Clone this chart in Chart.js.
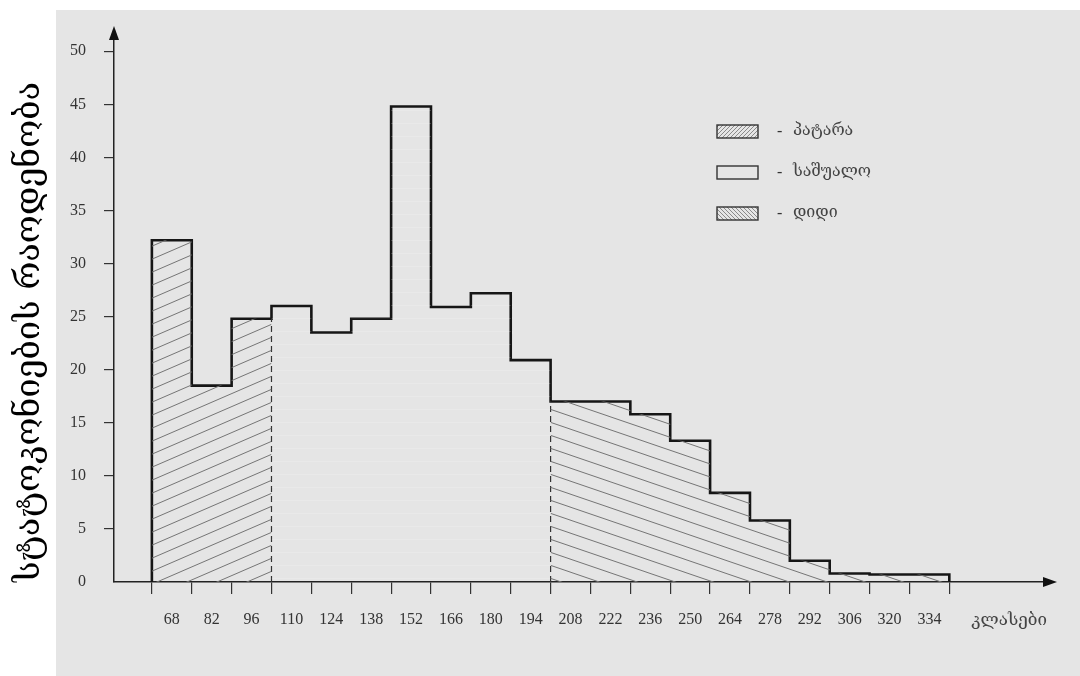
<!DOCTYPE html>
<html>
<head>
<meta charset="utf-8">
<script src="https://cdn.jsdelivr.net/npm/chart.js@4.4.1/dist/chart.umd.min.js"></script>
<style>
  html, body { margin: 0; padding: 0; background: #fff; }
  #wrap { width: 1080px; height: 676px; }
</style>
</head>
<body>
<div id="wrap"><canvas id="histogram" width="1080" height="676"></canvas></div>
<script>
// class centres (x) and statoconia counts per class
const classes = [68, 82, 96, 110, 124, 138, 152, 166, 180, 194, 208, 222, 236, 250, 264, 278, 292, 306, 320, 334];
const counts = [32.2, 18.5, 24.8, 26.0, 23.5, 24.8, 44.8, 25.9, 27.2, 20.9, 17.0, 17.0, 15.8, 13.3, 8.4, 5.8, 2.0, 0.8, 0.7, 0.7];
const groupLabels = ['პატარა', 'საშუალო', 'დიდი'];
const groupStarts = [0, 3, 10];
const yTicks = [0, 5, 10, 15, 20, 25, 30, 35, 40, 45, 50];
const yTitle = 'სტატოკონიების რაოდენობა';
const xTitle = 'კლასები';

const half = (classes[1] - classes[0]) / 2;
const edges = classes.map(c => c - half).concat(classes[classes.length - 1] + half);

const numFont = "'Liberation Serif', 'DejaVu Serif', serif";
const geoFont = "'DejaVu Serif', 'DejaVu Sans', serif";

function hatch(w, h, dir, color, lw) {
  const c = document.createElement('canvas');
  c.width = w; c.height = h;
  const g = c.getContext('2d');
  g.strokeStyle = color;
  g.lineWidth = lw;
  for (let k = -1; k <= 1; k++) {
    g.beginPath();
    if (dir > 0) { g.moveTo(-w, 2 * h + k * h); g.lineTo(2 * w, -h + k * h); }
    else { g.moveTo(-w, -h + k * h); g.lineTo(2 * w, 2 * h + k * h); }
    g.stroke();
  }
  return g.createPattern(c, 'repeat');
}

function faintLines(h) {
  const c = document.createElement('canvas');
  c.width = 4; c.height = h;
  const g = c.getContext('2d');
  g.fillStyle = 'rgba(255,255,255,0.18)';
  g.fillRect(0, Math.floor(h / 2), 4, 1);
  return g.createPattern(c, 'repeat');
}

const fills = [hatch(30, 13, 1, '#757575', 1), faintLines(13), hatch(38, 13, -1, '#757575', 1)];
const legendFills = [hatch(4, 4, 1, '#8a8a8a', 1), 'rgba(0,0,0,0)', hatch(4, 4, -1, '#8a8a8a', 1)];

function groupPoints(g) {
  const s = groupStarts[g];
  const e = g + 1 < groupStarts.length ? groupStarts[g + 1] : counts.length;
  const pts = [];
  for (let i = s; i < e; i++) pts.push({ x: edges[i], y: counts[i] });
  pts.push({ x: edges[e], y: counts[e - 1] });
  return pts;
}

const outline = [{ x: edges[0], y: 0 }]
  .concat(counts.map((v, i) => ({ x: edges[i], y: v })))
  .concat([{ x: edges[counts.length], y: counts[counts.length - 1] }, { x: edges[counts.length], y: 0 }]);

const datasets = groupLabels.map((label, g) => ({
  label: label,
  data: groupPoints(g),
  stepped: 'before',
  fill: 'origin',
  backgroundColor: fills[g],
  borderWidth: 0,
  pointRadius: 0
}));

groupStarts.slice(1).forEach(s => {
  datasets.push({
    label: 'divider',
    data: [{ x: edges[s], y: 0 }, { x: edges[s], y: Math.min(counts[s - 1], counts[s]) }],
    borderColor: '#333',
    borderWidth: 1.2,
    borderDash: [6, 4],
    pointRadius: 0,
    fill: false
  });
});

datasets.push({
  label: 'outline',
  data: outline,
  stepped: 'before',
  fill: false,
  borderColor: '#161616',
  borderWidth: 2.6,
  pointRadius: 0,
  clip: false
});

const background = {
  id: 'background',
  beforeDraw(chart) {
    const ctx = chart.ctx;
    ctx.save();
    ctx.fillStyle = '#ffffff';
    ctx.fillRect(0, 0, chart.width, chart.height);
    ctx.fillStyle = '#e5e5e5';
    ctx.fillRect(56, 10, chart.width - 56, chart.height - 10);
    ctx.restore();
  }
};

const extras = {
  id: 'extras',
  afterDraw(chart) {
    const ctx = chart.ctx;
    const a = chart.chartArea;
    ctx.save();
    // axis arrows
    ctx.fillStyle = '#111';
    ctx.beginPath();
    ctx.moveTo(a.left, a.top - 4);
    ctx.lineTo(a.left - 5, a.top + 10);
    ctx.lineTo(a.left + 5, a.top + 10);
    ctx.closePath();
    ctx.fill();
    ctx.beginPath();
    ctx.moveTo(a.right + 10, a.bottom);
    ctx.lineTo(a.right - 4, a.bottom - 5);
    ctx.lineTo(a.right - 4, a.bottom + 5);
    ctx.closePath();
    ctx.fill();
    // legend
    const lx = a.left + 603, ly = a.top + 95;
    groupLabels.forEach((label, i) => {
      const y = ly + i * 41;
      ctx.fillStyle = legendFills[i];
      ctx.fillRect(lx, y, 41, 13);
      ctx.strokeStyle = '#333';
      ctx.lineWidth = 1.4;
      ctx.strokeRect(lx, y, 41, 13);
      ctx.fillStyle = '#333';
      ctx.font = '16px ' + numFont;
      ctx.textBaseline = 'middle';
      ctx.fillText('-', lx + 60, y + 7);
      ctx.fillStyle = '#444';
      ctx.font = '16px ' + geoFont;
      ctx.fillText(label, lx + 76, y + 6);
    });
    ctx.restore();
  }
};

new Chart(document.getElementById('histogram'), {
  type: 'line',
  data: { datasets: datasets },
  options: {
    responsive: false,
    devicePixelRatio: 1,
    animation: false,
    layout: { padding: { top: 30, right: 33, bottom: 0, left: 0 } },
    plugins: { legend: { display: false }, tooltip: { enabled: false } },
    scales: {
      x: {
        type: 'linear',
        min: 47.7,
        max: 375.3,
        afterBuildTicks: s => {
          s.ticks = edges.concat(classes).sort((p, q) => p - q).map(v => ({ value: v }));
        },
        afterFit: s => { s.height = 94; },
        border: { color: '#222', width: 1.5 },
        grid: {
          drawOnChartArea: false,
          tickLength: 12,
          lineWidth: 1.2,
          tickColor: c => (c.tick && edges.includes(c.tick.value)) ? '#333' : 'rgba(0,0,0,0)'
        },
        ticks: {
          autoSkip: false,
          maxRotation: 0,
          padding: 16,
          color: '#333',
          font: { family: numFont, size: 16 },
          callback: v => classes.includes(v) ? String(v) : ''
        },
        title: {
          display: true,
          text: xTitle,
          align: 'end',
          color: '#444',
          font: { family: geoFont, size: 17 },
          padding: { top: 0, bottom: 45 }
        }
      },
      y: {
        min: 0,
        max: 52,
        afterBuildTicks: s => { s.ticks = yTicks.map(v => ({ value: v })); },
        afterFit: s => { s.width = 114; },
        border: { color: '#222', width: 1.5 },
        grid: {
          drawOnChartArea: false,
          tickLength: 10,
          lineWidth: 1.2,
          tickColor: c => (c.tick && c.tick.value === 0) ? 'rgba(0,0,0,0)' : '#333'
        },
        ticks: {
          padding: 18,
          color: '#333',
          font: { family: numFont, size: 16 }
        },
        title: {
          display: true,
          text: yTitle,
          align: 'start',
          color: '#000',
          font: { family: geoFont, size: 34 },
          padding: { top: 10, bottom: 0 }
        }
      }
    }
  },
  plugins: [background, extras]
});
</script>
</body>
</html>
